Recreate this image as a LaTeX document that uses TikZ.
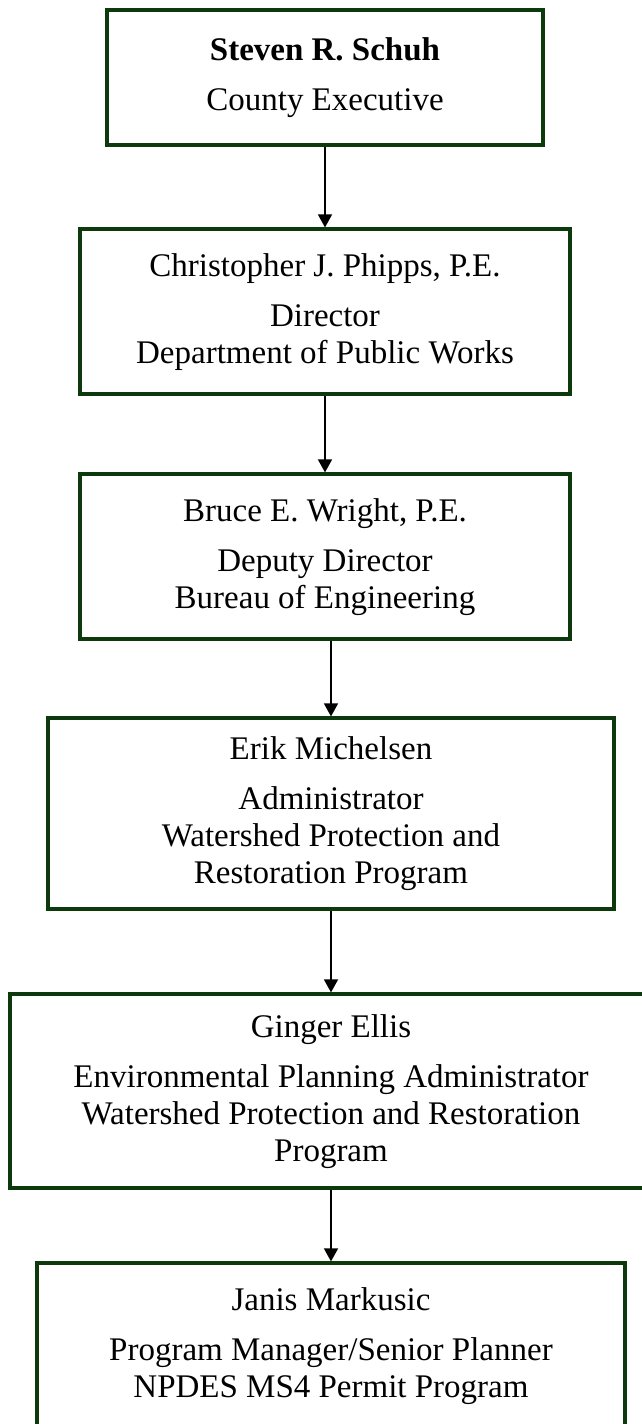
\documentclass[tikz,border=0pt]{standalone}
\usepackage{fontspec}
\setmainfont{Liberation Serif}
\usepackage{tikz}
\usetikzlibrary{arrows.meta, positioning}
\definecolor{boxgreen}{RGB}{12,58,12}
\tikzset{
  font={\fontsize{16.5pt}{18.5pt}\selectfont},
  orgbox/.style={draw=boxgreen, line width=2pt, shape=rectangle, align=center, inner sep=0pt},
  link/.style={-{Triangle[width=7pt,length=6.5pt]}, line width=0.75pt}}

\begin{document}
\begin{tikzpicture}
  \useasboundingbox (0,0) rectangle (321pt,-712pt);
  \matrix [anchor=north, inner sep=0pt, row sep=0pt] at (165.5pt,-4pt) {
  \node (exec) [orgbox, minimum width=218pt, minimum height=67.5pt] {\textbf{Steven R. Schuh}\\[6.5pt] County Executive}; \\[40pt]
  \node (dpw) [orgbox, minimum width=245pt, minimum height=82.5pt] {Christopher J. Phipps, P.E.\\[6.5pt] Director\\ Department of Public Works}; \\[38pt]
  \node (boe) [orgbox, minimum width=245pt, minimum height=82.5pt] {Bruce E. Wright, P.E.\\[6.5pt] Deputy Director\\ Bureau of Engineering}; \\[37.5pt]
  \node (wpr) [orgbox, minimum width=282.5pt, minimum height=95.5pt, xshift=3pt] {Erik Michelsen\\[6.5pt] Administrator\\ Watershed Protection and\\ Restoration Program}; \\[40.5pt]
  \node (envplan) [orgbox, minimum width=321pt, minimum height=97pt, xshift=3pt] {Ginger Ellis\\[6.5pt] Environmental Planning Administrator\\ Watershed Protection and Restoration\\ Program}; \\[35.5pt]
  \node (npdes) [orgbox, minimum width=293.5pt, minimum height=82.5pt, xshift=3pt] {Janis Markusic\\[6.5pt] Program Manager/Senior Planner\\ NPDES MS4 Permit Program}; \\
};
\draw[link] (exec) -- (dpw);
\draw[link] (dpw) -- (boe);
\draw[link] (boe.south -| wpr.north) -- (wpr.north);
\draw[link] (wpr) -- (envplan);
\draw[link] (envplan) -- (npdes);
\end{tikzpicture}
\end{document}
